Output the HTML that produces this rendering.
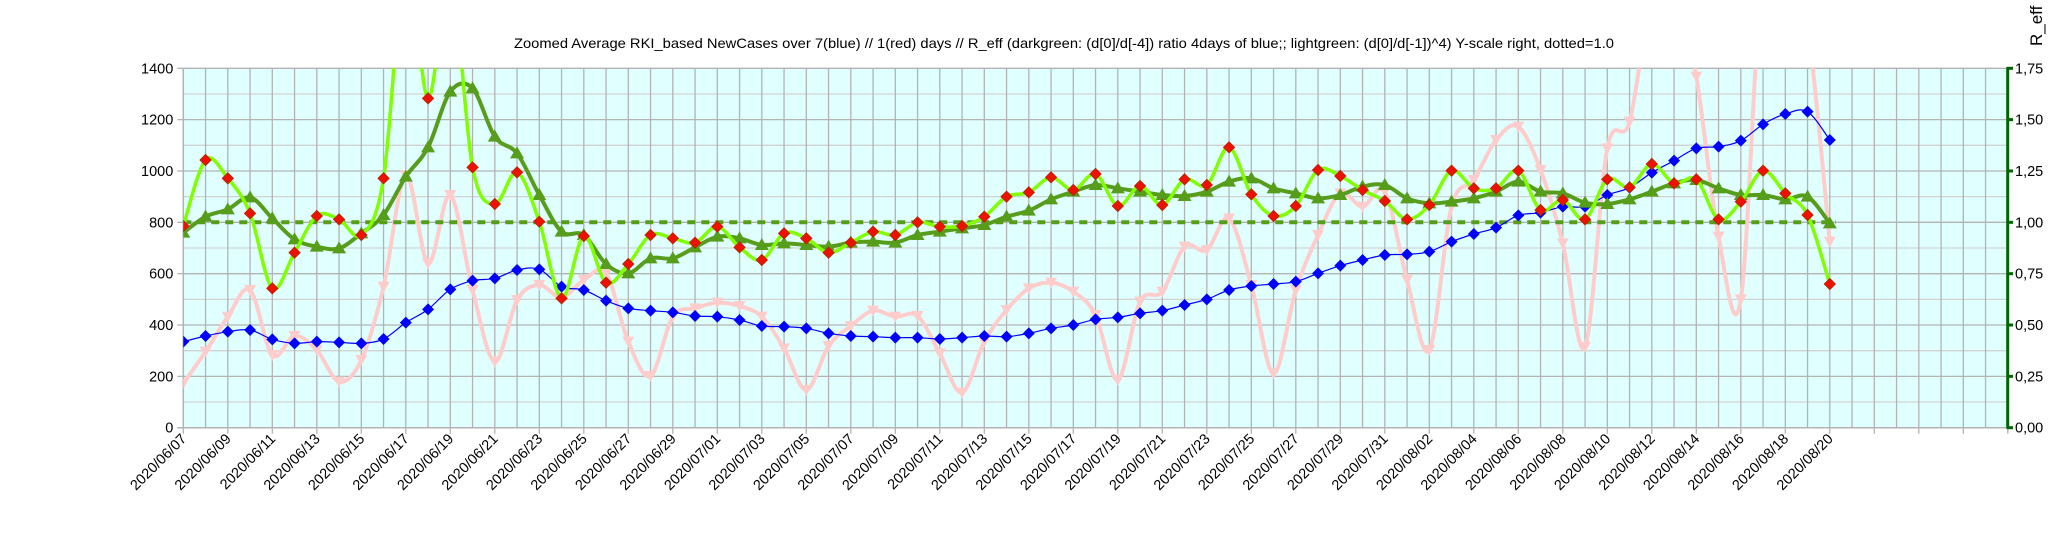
<!DOCTYPE html>
<html><head><meta charset="utf-8"><style>
html,body{margin:0;padding:0;background:#fff}
svg{display:block;font-family:"Liberation Sans",sans-serif}
</style></head><body>
<svg id="s" width="2048" height="537" viewBox="0 0 2048 537" xmlns="http://www.w3.org/2000/svg">
<defs><clipPath id="c"><rect x="183.3" y="68.3" width="1824.4" height="359.4"/></clipPath></defs>
<rect x="183.3" y="68.3" width="1824.4" height="359.4" fill="#e0ffff"/>
<g id="grid"></g>
<text x="514" y="48" font-size="14" textLength="1100" lengthAdjust="spacingAndGlyphs" fill="#000">Zoomed Average RKI_based NewCases over 7(blue) // 1(red) days //  R_eff (darkgreen: (d[0]/d[-4]) ratio 4days of blue;; lightgreen: (d[0]/d[-1])^4) Y-scale right, dotted=1.0</text>
<text transform="translate(2042,46) rotate(-90)" font-size="17" fill="#000">R_eff</text>
<g id="labels" font-size="14.5" fill="#000"></g>
<g id="series" clip-path="url(#c)"></g>
<g id="marks"></g>
</svg>
<script>
const NS="http://www.w3.org/2000/svg";
const X0=183.3,DX=22.25,Y0=427.7,YT=68.3;
const svg=document.getElementById('s');
function el(p,t,a,txt){const e=document.createElementNS(NS,t);for(const k in a)e.setAttribute(k,a[k]);if(txt!==undefined)e.textContent=txt;p.appendChild(e);return e;}
const g=document.getElementById('grid'),L=document.getElementById('labels');
// horizontal grid
for(let v=0;v<=1400;v+=100){const y=Y0-v*(Y0-YT)/1400;
 el(g,'line',{x1:X0,x2:2007.7,y1:y,y2:y,stroke:v%200?'#d2d2d2':'#b3b3b3','stroke-width':1.3});}
for(let d=0;d<=82;d++){const x=X0+d*DX;el(g,'line',{x1:x,x2:x,y1:YT,y2:Y0+(d%2?0:6),stroke:'#b3b3b3','stroke-width':1.3});}
el(g,'line',{x1:X0,x2:X0,y1:YT,y2:Y0,stroke:'#b3b3b3','stroke-width':1.5});
el(g,'line',{x1:X0-6,x2:2007.7,y1:Y0,y2:Y0,stroke:'#b3b3b3','stroke-width':1.5});
for(let v=0;v<=1400;v+=200){const y=Y0-v*(Y0-YT)/1400;
 el(g,'line',{x1:X0-6,x2:X0,y1:y,y2:y,stroke:'#b3b3b3','stroke-width':1.3});
 el(L,'text',{x:X0-10,y:y+5,'text-anchor':'end'},String(v));
 const r=(v/800).toFixed(2).replace('.',',');
 el(L,'text',{x:2015,y:y+5},r);}
// right axis
el(g,'line',{x1:2007.7,x2:2007.7,y1:YT-1,y2:Y0+1,stroke:'#006400','stroke-width':3});
for(let v=0;v<=1400;v+=200){const y=Y0-v*(Y0-YT)/1400;el(g,'line',{x1:2007,x2:2013,y1:y,y2:y,stroke:'#006400','stroke-width':3});}
// date labels
for(let d=0;d<=74;d+=2){const dt=new Date(Date.UTC(2020,5,7+d));
 const s='2020/'+String(dt.getUTCMonth()+1).padStart(2,'0')+'/'+String(dt.getUTCDate()).padStart(2,'0');
 const x=X0+d*DX+4,y=Y0+12;
 el(L,'text',{transform:`translate(${x},${y}) rotate(-45)`,'text-anchor':'end','font-size':14.5},s);}
// data (zoom-y units: y=60+z/3)
const blue=[845,828,815,810,838,850,845,847,850,837,788,748,688,662,655,630,628,680,690,722,745,752,757,768,770,780,798,800,805,820,828,830,833,833,837,833,828,830,820,805,795,778,772,760,752,735,718,690,678,672,665,640,617,600,585,583,575,545,522,503,466,458,440,440,405,383,338,302,265,260,242,193,162,155,240];
const dg=[518,470,448,412,475,538,560,565,520,465,350,262,95,85,230,280,405,515,525,612,640,595,595,562,530,535,555,550,555,560,548,545,548,525,515,505,495,470,452,418,395,375,385,395,405,408,395,365,355,385,400,415,405,380,375,415,430,425,415,395,365,395,400,428,432,418,395,370,360,385,405,405,418,410,490];
const lg=[498,300,355,460,685,578,468,478,525,355,-300,115,-250,322,432,337,485,715,528,668,612,525,535,548,500,562,600,520,535,578,548,515,525,487,500,498,470,410,397,352,390,342,438,378,435,358,375,262,403,468,438,330,348,390,423,478,435,332,385,385,332,450,420,478,358,382,312,370,358,478,425,332,400,465,672];
const pk=[970,875,770,690,885,828,870,965,900,680,345,610,405,690,905,720,675,712,660,640,845,948,770,745,728,738,770,865,990,858,798,752,770,768,880,998,845,750,685,668,695,765,960,725,695,560,570,475,675,940,690,525,400,440,395,660,870,440,360,240,200,330,550,860,265,185,-200,-250,50,530,718,-300,-300,-100,545];
const P=a=>a.map((z,i)=>[X0+i*DX,60+z/3]);
function spline(pts){let d=`M${pts[0][0]},${pts[0][1]}`;
 for(let i=0;i<pts.length-1;i++){const p0=pts[Math.max(0,i-1)],p1=pts[i],p2=pts[i+1],p3=pts[Math.min(pts.length-1,i+2)];
  d+=` C${p1[0]+(p2[0]-p0[0])/6},${p1[1]+(p2[1]-p0[1])/6} ${p2[0]-(p3[0]-p1[0])/6},${p2[1]-(p3[1]-p1[1])/6} ${p2[0]},${p2[1]}`;}
 return d;}
const S=document.getElementById('series');
const pP=P(pk),pB=P(blue),pD=P(dg),pL=P(lg);
el(S,'path',{d:spline(pP),fill:'none',stroke:'#ffcccc','stroke-width':4});
for(const [x,y] of pP)el(S,'path',{d:`M${x-6},${y-5}L${x+6},${y-5}L${x},${y+6}Z`,fill:'#ffcccc'});
el(S,'line',{x1:X0,x2:X0+74*DX+6,y1:222.3,y2:222.3,stroke:'#579d1c','stroke-width':4,'stroke-dasharray':'8,6'});
el(S,'path',{d:spline(pB),fill:'none',stroke:'#0000ff','stroke-width':1.2});
for(const [x,y] of pB)el(S,'path',{d:`M${x},${y-6}L${x+6},${y}L${x},${y+6}L${x-6},${y}Z`,fill:'#0000ff'});
el(S,'path',{d:spline(pD),fill:'none',stroke:'#579d1c','stroke-width':4});
for(const [x,y] of pD)el(S,'path',{d:`M${x},${y-7}L${x+7},${y+5}L${x-7},${y+5}Z`,fill:'#579d1c'});
el(S,'path',{d:spline(pL),fill:'none',stroke:'#80ff00','stroke-width':3.5});
for(const [x,y] of pL)el(S,'path',{d:`M${x},${y-5.5}L${x+5.5},${y}L${x},${y+5.5}L${x-5.5},${y}Z`,fill:'#ee1100',stroke:'#bb2200','stroke-width':1});
</script>
</body></html>
